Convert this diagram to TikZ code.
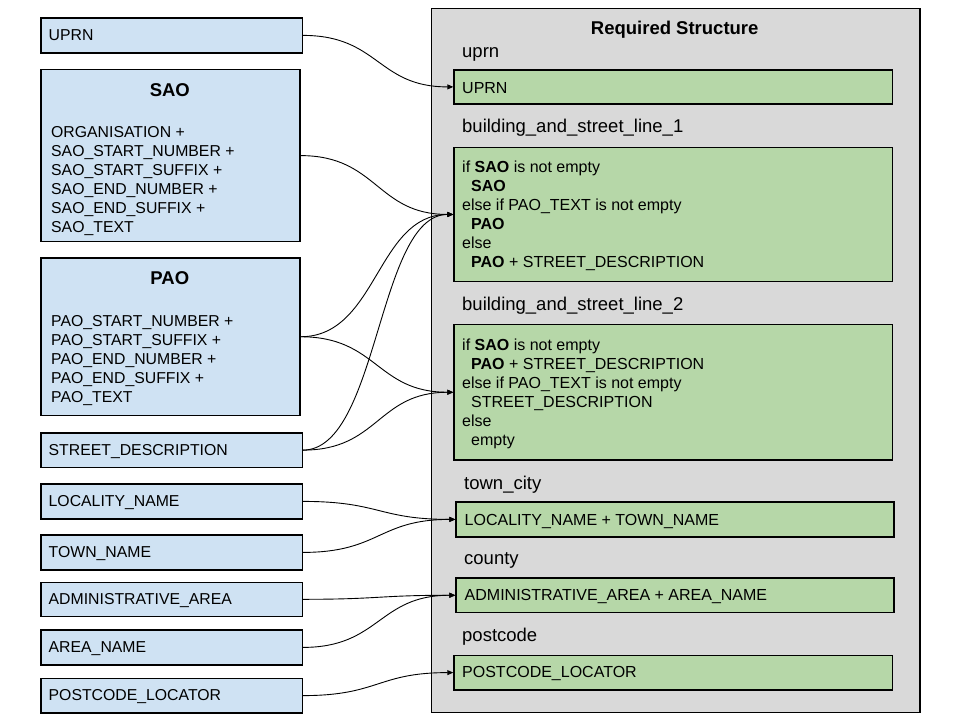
\documentclass[tikz,border=0pt]{standalone}
\usepackage{fontspec}
\setmainfont{Liberation Sans}
\usetikzlibrary{arrows.meta}
\definecolor{lblue}{HTML}{CFE2F3}
\definecolor{lgreen}{HTML}{B6D7A8}
\definecolor{lgray}{HTML}{D9D9D9}
\newcommand{\bodyfont}{\fontsize{15.8}{19}\selectfont}
\newcommand{\gbodyfont}{\fontsize{16}{19}\selectfont}
\newcommand{\labfont}{\fontsize{18.5}{22}\selectfont}
\newcommand{\ind}{\hspace*{9pt}}
\begin{document}
\begin{tikzpicture}[x=1pt,y=-1pt,
  box/.style={draw=black, line width=1.2pt, inner sep=0pt, anchor=north west},
  srcbox/.style={box, fill=lblue},
  dstbox/.style={box, fill=lgreen},
  txt/.style={inner sep=0pt, anchor=base west, font=\bodyfont},
  gtxt/.style={inner sep=0pt, anchor=base west, font=\gbodyfont},
  lab/.style={inner sep=0pt, anchor=base west, font=\labfont},
  ttl/.style={inner sep=0pt, anchor=base, font=\labfont\bfseries},
  conn/.style={draw=black, line width=0.9pt, -{Triangle[length=6pt,width=5pt]}}
]
\fill[white] (0,0) rectangle (960,720);
\useasboundingbox (0,0) rectangle (960,720);

% required structure panel
\node[box, fill=lgray, minimum width=488.3pt, minimum height=704.2pt] (struct) at (431,7.5) {};
\node[ttl] (tstruct) at (674.7,34.3) {Required Structure};

% source boxes
\node[srcbox, minimum width=261.4pt, minimum height=35pt] (luprn) at (40.3,17.3) {};
\node[txt] (tluprn) at (48.5,40.8) {UPRN};

\node[srcbox, minimum width=259pt, minimum height=172pt] (lsao) at (40.3,69) {};
\node[ttl] (tsao) at (169.8,96) {SAO};
\node[txt] (bsao) at (51,137.3) {\vtop{\hbox{ORGANISATION +}\hbox{SAO\_START\_NUMBER +}\hbox{SAO\_START\_SUFFIX +}\hbox{SAO\_END\_NUMBER +}\hbox{SAO\_END\_SUFFIX +}\hbox{SAO\_TEXT}}};

\node[srcbox, minimum width=259pt, minimum height=157.7pt] (lpao) at (40.3,257.3) {};
\node[ttl] (tpao) at (169.8,284.3) {PAO};
\node[txt] (bpao) at (51,326.7) {\vtop{\hbox{PAO\_START\_NUMBER +}\hbox{PAO\_START\_SUFFIX +}\hbox{PAO\_END\_NUMBER +}\hbox{PAO\_END\_SUFFIX +}\hbox{PAO\_TEXT}}};

\node[srcbox, minimum width=261.4pt, minimum height=34.4pt] (lstreet) at (40.3,432.3) {};
\node[txt] (tlstreet) at (48.5,455.5) {STREET\_DESCRIPTION};

\node[srcbox, minimum width=261.4pt, minimum height=35pt] (lloc) at (40.3,483.3) {};
\node[txt] (tlloc) at (48.5,506.8) {LOCALITY\_NAME};

\node[srcbox, minimum width=261.4pt, minimum height=35pt] (ltown) at (40.3,534.3) {};
\node[txt] (tltown) at (48.5,557.8) {TOWN\_NAME};

\node[srcbox, minimum width=261.4pt, minimum height=34pt] (ladmin) at (40.3,581.7) {};
\node[txt] (tladmin) at (48.5,604.6) {ADMINISTRATIVE\_AREA};

\node[srcbox, minimum width=261.4pt, minimum height=35pt] (larea) at (40.3,629.3) {};
\node[txt] (tlarea) at (48.5,652.7) {AREA\_NAME};

\node[srcbox, minimum width=261.4pt, minimum height=34.6pt] (lpost) at (40.3,677.7) {};
\node[txt] (tlpost) at (48.5,700.9) {POSTCODE\_LOCATOR};

% target labels and boxes
\node[lab] (luprnl) at (462,57.3) {uprn};
\node[dstbox, minimum width=438.4pt, minimum height=34pt] (guprn) at (453.3,69.3) {};
\node[gtxt] (tguprn) at (462,93) {UPRN};

\node[lab] (lb1) at (462,132.7) {building\_and\_street\_line\_1};
\node[dstbox, minimum width=438.4pt, minimum height=134.3pt] (gb1) at (453.3,146.7) {};
\node[gtxt] (tgb1) at (462,172.3) {\vtop{\hbox{if \textbf{SAO} is not empty}\hbox{\ind\textbf{SAO}}\hbox{else if PAO\_TEXT is not empty}\hbox{\ind\textbf{PAO}}\hbox{else}\hbox{\ind\textbf{PAO} + STREET\_DESCRIPTION}}};

\node[lab] (lb2) at (462,310.7) {building\_and\_street\_line\_2};
\node[dstbox, minimum width=438.4pt, minimum height=135.3pt] (gb2) at (453.3,324) {};
\node[gtxt] (tgb2) at (462,350.7) {\vtop{\hbox{if \textbf{SAO} is not empty}\hbox{\ind\textbf{PAO} + STREET\_DESCRIPTION}\hbox{else if PAO\_TEXT is not empty}\hbox{\ind STREET\_DESCRIPTION}\hbox{else}\hbox{\ind empty}}};

\node[lab] (ltc) at (464,489.3) {town\_city};
\node[dstbox, minimum width=438pt, minimum height=35pt] (gtown) at (455.3,501.3) {};
\node[gtxt] (tgtown) at (464.5,525) {LOCALITY\_NAME + TOWN\_NAME};

\node[lab] (lcounty) at (464,564) {county};
\node[dstbox, minimum width=438pt, minimum height=34.7pt] (gcounty) at (455.3,577.3) {};
\node[gtxt] (tgcounty) at (464.5,600.5) {ADMINISTRATIVE\_AREA + AREA\_NAME};

\node[lab] (lpc) at (462,641) {postcode};
\node[dstbox, minimum width=438.4pt, minimum height=34.6pt] (gpost) at (453.3,654.7) {};
\node[gtxt] (tgpost) at (462,677.9) {POSTCODE\_LOCATOR};

% connectors
\draw[conn] (luprn.east) .. controls +(76,0) and +(-76,0) .. (guprn.west);
\draw[conn] (lsao.east) .. controls +(77,0) and +(-77,0) .. (gb1.west);
\draw[conn] (lpao.east) .. controls +(77,0) and +(-77,0) .. (gb1.west);
\draw[conn] (lpao.east) .. controls +(77,0) and +(-77,0) .. (gb2.west);
\draw[conn] (lstreet.east) .. controls +(76,0) and +(-76,0) .. (gb1.west);
\draw[conn] (lstreet.east) .. controls +(76,0) and +(-76,0) .. (gb2.west);
\draw[conn] (lloc.east) .. controls +(77,0) and +(-77,0) .. (gtown.west);
\draw[conn] (ltown.east) .. controls +(77,0) and +(-77,0) .. (gtown.west);
\draw[conn] (ladmin.east) .. controls +(77,0) and +(-77,0) .. (gcounty.west);
\draw[conn] (larea.east) .. controls +(77,0) and +(-77,0) .. (gcounty.west);
\draw[conn] (lpost.east) .. controls +(76,0) and +(-76,0) .. (gpost.west);
\end{tikzpicture}
\end{document}
